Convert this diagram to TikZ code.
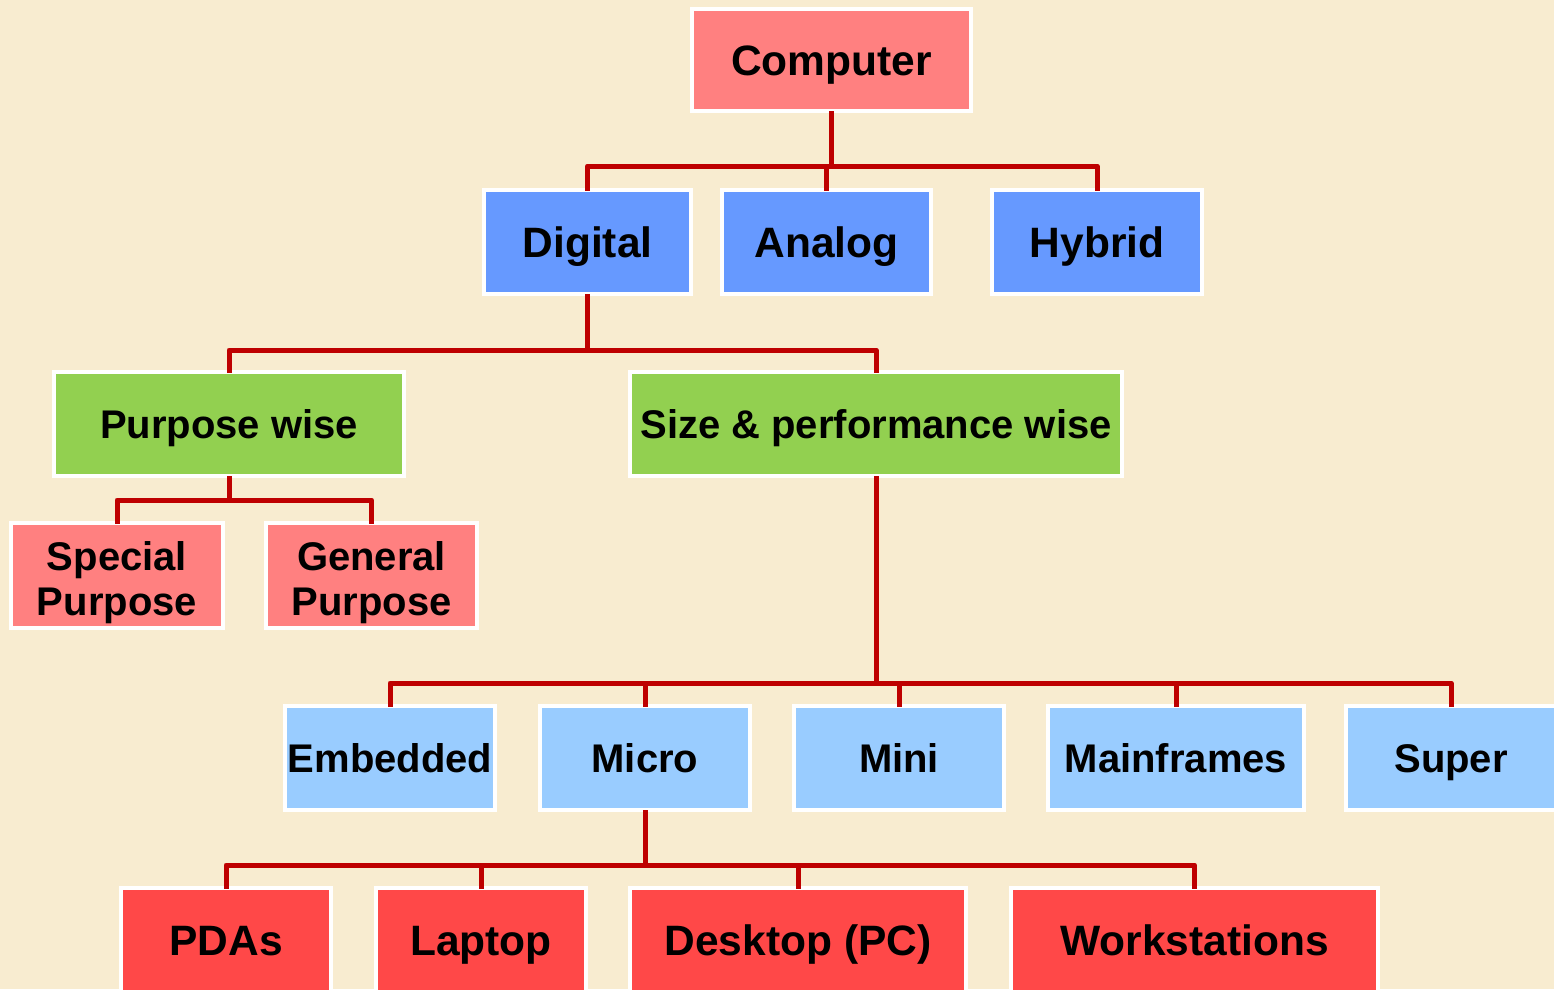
\documentclass[tikz,border=0pt]{standalone}
\usepackage{fontspec}
\setmainfont{Liberation Sans}
\definecolor{paper}{RGB}{248,236,208}
\definecolor{wirered}{RGB}{190,0,0}
\definecolor{pinkfill}{RGB}{255,128,128}
\definecolor{bluefill}{RGB}{102,153,255}
\definecolor{greenfill}{RGB}{146,208,80}
\definecolor{skyfill}{RGB}{153,204,255}
\definecolor{redfill}{RGB}{255,72,72}
\tikzset{
  box/.style={draw=white, line width=4pt, minimum height=104pt, inner sep=0pt,
    font=\fontsize{40}{45}\selectfont\bfseries, text height=29pt, text depth=0pt},
  bigbox/.style={box, font=\fontsize{42.5}{46}\selectfont\bfseries, text height=31pt},
  twoline/.style={box, align=center, text height=79pt, text depth=0pt},
  wire/.style={draw=wirered, line width=5pt, line join=round, line cap=rect},
}
\begin{document}
\begin{tikzpicture}[x=1pt, y=-1pt]
\fill[paper] (0,0) rectangle (1554,989);
\useasboundingbox (0,0) rectangle (1554,989);

% level 0
\node[bigbox, fill=pinkfill, minimum width=279pt, minimum height=102pt] (comp) at (831.5,60) {Computer};
% level 1
\node[bigbox, fill=bluefill, minimum width=207pt] (dig) at (587.5,242) {Digital};
\node[bigbox, fill=bluefill, minimum width=209pt] (ana) at (826.5,242) {Analog};
\node[bigbox, fill=bluefill, minimum width=210pt] (hyb) at (1097,242) {Hybrid};
% level 2
\node[box, fill=greenfill, minimum width=350pt] (purp) at (229,424) {Purpose wise};
\node[box, fill=greenfill, minimum width=492pt] (size) at (876,424) {Size \& performance wise};
% purpose children
\node[twoline, fill=pinkfill, minimum width=212pt, minimum height=105pt] (spec) at (117,575.5) {Special\\Purpose};
\node[twoline, fill=pinkfill, minimum width=211pt, minimum height=105pt] (gen) at (371.5,575.5) {General\\Purpose};
% size children
\node[box, fill=skyfill, minimum width=210pt] (emb) at (390,758) {Embedded};
\node[box, fill=skyfill, minimum width=210pt] (mic) at (645,758) {Micro};
\node[box, fill=skyfill, minimum width=210pt] (mini) at (899,758) {Mini};
\node[box, fill=skyfill, minimum width=256pt] (mf) at (1176,758) {Mainframes};
\node[box, fill=skyfill, minimum width=210pt] (sup) at (1451,758) {Super};
% micro children
\node[bigbox, fill=redfill, minimum width=210pt] (pda) at (226,940) {PDAs};
\node[bigbox, fill=redfill, minimum width=210pt] (lap) at (481,940) {Laptop};
\node[bigbox, fill=redfill, minimum width=336pt] (desk) at (798,940) {Desktop (PC)};
\node[bigbox, fill=redfill, minimum width=367pt] (ws) at (1194.5,940) {Workstations};

% connectors
\coordinate (j1) at (831.5,166);
\draw[wire] (comp.south) -- (j1);
\draw[wire] (dig.north) |- (j1) -| (hyb.north);
\draw[wire] (ana.north) -- (ana.north |- j1);

\coordinate (j2) at (587.5,350);
\draw[wire] (dig.south) -- (j2);
\draw[wire] (purp.north) |- (j2) -| (size.north);

\coordinate (j3) at (229,500);
\draw[wire] (purp.south) -- (j3);
\draw[wire] (spec.north) |- (j3) -| (gen.north);

\coordinate (j4) at (876,683);
\draw[wire] (size.south) -- (j4);
\draw[wire] (emb.north) |- (j4) -| (sup.north);
\draw[wire] (mic.north) -- (mic.north |- j4);
\draw[wire] (mini.north) -- (mini.north |- j4);
\draw[wire] (mf.north) -- (mf.north |- j4);

\coordinate (j5) at (645,865);
\draw[wire] (mic.south) -- (j5);
\draw[wire] (pda.north) |- (j5) -| (ws.north);
\draw[wire] (lap.north) -- (lap.north |- j5);
\draw[wire] (desk.north) -- (desk.north |- j5);
\end{tikzpicture}
\end{document}
